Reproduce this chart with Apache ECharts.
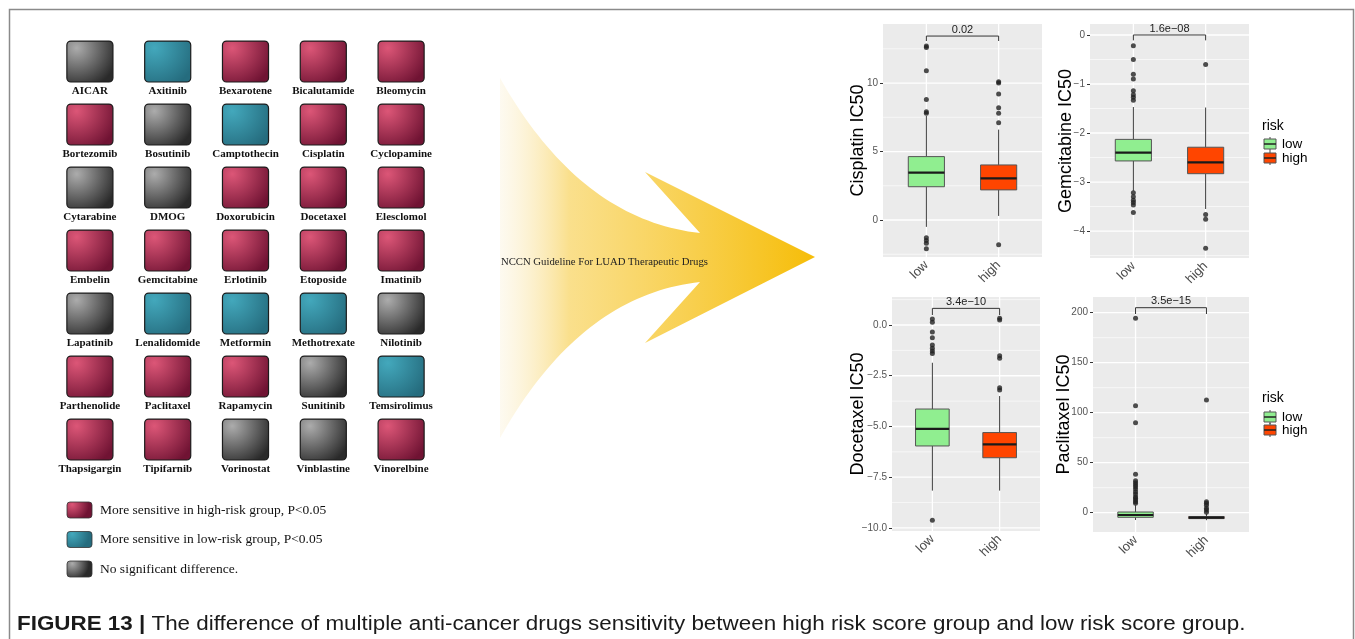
<!DOCTYPE html>
<html>
<head>
<meta charset="utf-8">
<script src="https://cdn.jsdelivr.net/npm/echarts@6/dist/echarts.min.js"></script>
<style>
  html, body { margin: 0; padding: 0; background: #ffffff; }
  #chart { width: 1355px; height: 639px; }
</style>
</head>
<body>
<div id="chart"></div>
<script>
// ---------- Drug overview tiles (5 columns x 7 rows) ----------
const drugNames = [
  'AICAR', 'Axitinib', 'Bexarotene', 'Bicalutamide', 'Bleomycin',
  'Bortezomib', 'Bosutinib', 'Camptothecin', 'Cisplatin', 'Cyclopamine',
  'Cytarabine', 'DMOG', 'Doxorubicin', 'Docetaxel', 'Elesclomol',
  'Embelin', 'Gemcitabine', 'Erlotinib', 'Etoposide', 'Imatinib',
  'Lapatinib', 'Lenalidomide', 'Metformin', 'Methotrexate', 'Nilotinib',
  'Parthenolide', 'Paclitaxel', 'Rapamycin', 'Sunitinib', 'Temsirolimus',
  'Thapsigargin', 'Tipifarnib', 'Vorinostat', 'Vinblastine', 'Vinorelbine'
];
// 0 = more sensitive in high-risk group, 1 = more sensitive in low-risk group, 2 = no difference
const drugStatus = [
  2, 1, 0, 0, 0,
  0, 2, 1, 0, 0,
  2, 2, 0, 0, 0,
  0, 0, 0, 0, 0,
  2, 1, 1, 1, 2,
  0, 0, 0, 2, 1,
  0, 0, 2, 2, 0
];
const statusLabels = [
  'More sensitive in high-risk group, P<0.05',
  'More sensitive in low-risk group, P<0.05',
  'No significant difference.'
];
const tileColumns = 5;

// ---------- IC50 boxplots ----------
const riskGroups = ['low', 'high'];
// per group: [lower whisker, Q1, median, Q3, upper whisker]
const cisplatinStats = [[-0.5, 2.43, 3.46, 4.63, 7.6], [0.3, 2.2, 3.04, 4.02, 6.6]];
const cisplatinOutliers = [[7.8, 7.9, 8.8, 10.9, 12.6, 12.7, -1.3, -1.5, -1.7, -2.1],
                           [7.1, 7.8, 8.2, 9.2, 10.0, 10.1, -1.8]];
const cisplatinTicks = [0, 5, 10];
const cisplatinTickLabels = ['0', '5', '10'];
const cisplatinMinor = [-2.5, 2.5, 7.5, 12.5];
const cisplatinP = '0.02';

const gemcitabineStats = [[-3.18, -2.57, -2.40, -2.13, -1.47], [-3.55, -2.83, -2.60, -2.29, -1.48]];
const gemcitabineOutliers = [[-1.33, -1.27, -1.22, -1.14, -0.90, -0.80, -0.50, -0.22,
                              -3.22, -3.30, -3.37, -3.42, -3.47, -3.62],
                             [-0.60, -3.66, -3.76, -4.35]];
const gemcitabineTicks = [0, -1, -2, -3, -4];
const gemcitabineTickLabels = ['0', '\u22121', '\u22122', '\u22123', '\u22124'];
const gemcitabineMinor = [-0.5, -1.5, -2.5, -3.5, -4.5];
const gemcitabineP = '1.6e\u221208';

const docetaxelStats = [[-8.16, -5.96, -5.12, -4.14, -1.86], [-8.16, -6.54, -5.88, -5.30, -3.50]];
const docetaxelOutliers = [[-1.40, -1.28, -1.15, -0.99, -0.63, -0.34, 0.13, 0.30, -9.62],
                           [-3.20, -3.09, -1.64, -1.51, 0.25, 0.33]];
const docetaxelTicks = [0, -2.5, -5, -7.5, -10];
const docetaxelTickLabels = ['0.0', '\u22122.5', '\u22125.0', '\u22127.5', '\u221210.0'];
const docetaxelMinor = [1.25, -1.25, -3.75, -6.25, -8.75];
const docetaxelP = '3.4e\u221210';

const paclitaxelStats = [[-7.3, -4.6, -2.3, 0.7, 7.5], [-7.5, -5.9, -4.9, -3.8, -1.2]];
const paclitaxelOutliers = [[9.4, 11, 12.7, 14.5, 16, 18.7, 21, 23.7, 26, 28, 30, 32, 38.4, 90, 107, 194.4],
                            [0.5, 2.7, 4.4, 7.5, 9.4, 11, 112.7]];
const paclitaxelTicks = [0, 50, 100, 150, 200];
const paclitaxelTickLabels = ['0', '50', '100', '150', '200'];
const paclitaxelMinor = [25, 75, 125, 175];
const paclitaxelP = '3.5e\u221215';

// ---------- layout & styling ----------
const riskFill = ['#90EE90', '#FF4500'];
const FONT = '"Liberation Sans", Arial, sans-serif';
const SERIF = '"Liberation Serif", "Times New Roman", serif';

function radial(c0, c1) {
  return { type: 'radial', x: 0.22, y: 0.18, r: 1.0,
           colorStops: [{ offset: 0, color: c0 }, { offset: 1, color: c1 }] };
}
const tileFills = [
  radial('#DC5677', '#701333'),
  radial('#43A8BC', '#256C7E'),
  radial('#ACACAC', '#2A2A2A')
];

const panels = [
  { name: 'Cisplatin IC50', stats: cisplatinStats, out: cisplatinOutliers, ticks: cisplatinTicks,
    labels: cisplatinTickLabels, minor: cisplatinMinor, p: cisplatinP, bracket: [13.43, 13.07],
    grid: { left: 883, top: 24, width: 159, height: 233 }, min: -2.70, max: 14.31, nameGap: 16 },
  { name: 'Gemcitabine IC50', stats: gemcitabineStats, out: gemcitabineOutliers, ticks: gemcitabineTicks,
    labels: gemcitabineTickLabels, minor: gemcitabineMinor, p: gemcitabineP, bracket: [0.0, -0.11],
    grid: { left: 1090, top: 24, width: 159, height: 234 }, min: -4.55, max: 0.224, nameGap: 15 },
  { name: 'Docetaxel IC50', stats: docetaxelStats, out: docetaxelOutliers, ticks: docetaxelTicks,
    labels: docetaxelTickLabels, minor: docetaxelMinor, p: docetaxelP, bracket: [0.82, 0.49],
    grid: { left: 892, top: 297, width: 148, height: 234 }, min: -10.15, max: 1.38, nameGap: 25 },
  { name: 'Paclitaxel IC50', stats: paclitaxelStats, out: paclitaxelOutliers, ticks: paclitaxelTicks,
    labels: paclitaxelTickLabels, minor: paclitaxelMinor, p: paclitaxelP, bracket: [205, 198.7],
    grid: { left: 1093, top: 297, width: 156, height: 235 }, min: -19.3, max: 215.7, nameGap: 20 }
];

const grids = [{ left: 51, top: 30, width: 389, height: 441, show: false }];
const xAxes = [{ gridIndex: 0, type: 'value', min: 0.5, max: tileColumns + 0.5, show: false }];
const yAxes = [{ gridIndex: 0, type: 'value', min: 0.5, max: 7.5, inverse: true, show: false }];
const series = [];

// tiles
series.push({
  type: 'custom', xAxisIndex: 0, yAxisIndex: 0, silent: true,
  data: drugNames.map((n, i) => [i % tileColumns + 1, Math.floor(i / tileColumns) + 1, drugStatus[i]]),
  renderItem(params, api) {
    const c = api.coord([api.value(0), api.value(1)]);
    const s = api.size([1, 1]);
    const w = s[0] * 0.592, h = s[1] * 0.65;
    return {
      type: 'group',
      children: [
        { type: 'rect', shape: { x: c[0] - w / 2, y: c[1] - h / 2, width: w, height: h, r: 4 },
          style: { fill: tileFills[api.value(2)], stroke: '#1c1c1c', lineWidth: 1.2 } },
        { type: 'text', x: c[0], y: c[1] + h / 2 + 9,
          style: { text: drugNames[params.dataIndex], fill: '#111', align: 'center', verticalAlign: 'middle',
                   font: 'bold 11px ' + SERIF } }
      ]
    };
  }
});

panels.forEach((p, k) => {
  const gi = k + 1;
  grids.push(Object.assign({ show: true, backgroundColor: '#EBEBEB', borderWidth: 0 }, p.grid));
  xAxes.push({
    gridIndex: gi, type: 'value', min: 0.4, max: 2.6,
    splitLine: { show: false }, axisLine: { show: false },
    axisTick: { show: true, customValues: [1, 2], length: 3, lineStyle: { color: '#333', width: 1 } },
    axisLabel: { customValues: [1, 2], formatter: v => riskGroups[Math.round(v) - 1],
                 rotate: 45, fontSize: 13, color: '#4D4D4D', margin: 6, fontFamily: FONT }
  });
  yAxes.push({
    gridIndex: gi, type: 'value', min: p.min, max: p.max,
    name: p.name, nameLocation: 'middle', nameRotate: 90, nameGap: p.nameGap, nameMoveOverlap: false,
    nameTextStyle: { fontSize: 18, color: '#000', fontFamily: FONT },
    splitLine: { show: false }, axisLine: { show: false },
    axisTick: { show: true, customValues: p.ticks, length: 3, lineStyle: { color: '#333', width: 1 } },
    axisLabel: { customValues: p.ticks, formatter: v => p.labels[p.ticks.indexOf(v)],
                 fontSize: 10, color: '#555', margin: 5, fontFamily: FONT }
  });

  // panel grid lines: 0 = major horizontal, 1 = minor horizontal, 2 = vertical at groups
  const gl = p.ticks.map(v => [0, v]).concat(p.minor.map(v => [1, v])).concat([[2, 1], [2, 2]]);
  series.push({
    type: 'custom', xAxisIndex: gi, yAxisIndex: gi, silent: true, z: 1,
    data: gl,
    renderItem(params, api) {
      const cs = params.coordSys;
      const kind = api.value(0), v = api.value(1);
      if (kind === 2) {
        const x = api.coord([v, p.min])[0];
        return { type: 'line', shape: { x1: x, y1: cs.y, x2: x, y2: cs.y + cs.height },
                 style: { stroke: '#ffffff', lineWidth: 1.3 } };
      }
      const y = api.coord([1, v])[1];
      return { type: 'line', shape: { x1: cs.x, y1: y, x2: cs.x + cs.width, y2: y },
               style: { stroke: '#ffffff', lineWidth: kind === 0 ? 1.3 : 0.6 } };
    }
  });

  // boxes
  series.push({
    type: 'custom', xAxisIndex: gi, yAxisIndex: gi, silent: true, z: 3,
    data: p.stats.map((s, i) => [i + 1].concat(s)),
    renderItem(params, api) {
      const x = api.value(0);
      const pLo = api.coord([x, api.value(1)]);
      const pQ1 = api.coord([x, api.value(2)]);
      const pMd = api.coord([x, api.value(3)]);
      const pQ3 = api.coord([x, api.value(4)]);
      const pHi = api.coord([x, api.value(5)]);
      const half = api.size([0.5, 0])[0] / 2;
      const cx = pMd[0];
      const ws = { stroke: '#3a3a3a', lineWidth: 1 };
      return {
        type: 'group',
        children: [
          { type: 'line', shape: { x1: cx, y1: pHi[1], x2: cx, y2: pQ3[1] }, style: ws },
          { type: 'line', shape: { x1: cx, y1: pQ1[1], x2: cx, y2: pLo[1] }, style: ws },
          { type: 'rect', shape: { x: cx - half, y: pQ3[1], width: 2 * half, height: pQ1[1] - pQ3[1] },
            style: { fill: riskFill[x - 1], stroke: '#555', lineWidth: 1 } },
          { type: 'line', shape: { x1: cx - half, y1: pMd[1], x2: cx + half, y2: pMd[1] },
            style: { stroke: '#1a1a1a', lineWidth: 2.2 } }
        ]
      };
    }
  });

  // outliers
  const pts = [];
  p.out.forEach((arr, i) => arr.forEach(v => pts.push([i + 1, v])));
  series.push({
    type: 'scatter', xAxisIndex: gi, yAxisIndex: gi, silent: true, z: 4,
    symbol: 'circle', symbolSize: 5, itemStyle: { color: '#222' }, data: pts
  });

  // significance bracket
  series.push({
    type: 'custom', xAxisIndex: gi, yAxisIndex: gi, silent: true, z: 4,
    data: [[1, 2, p.bracket[0], p.bracket[1]]],
    renderItem(params, api) {
      const a = api.coord([api.value(0), api.value(3)]);
      const b = api.coord([api.value(0), api.value(2)]);
      const c = api.coord([api.value(1), api.value(2)]);
      const d = api.coord([api.value(1), api.value(3)]);
      return {
        type: 'group',
        children: [
          { type: 'polyline', shape: { points: [a, b, c, d] }, style: { stroke: '#333', lineWidth: 1, fill: null } },
          { type: 'text', x: (b[0] + c[0]) / 2, y: b[1] - 1,
            style: { text: p.p, fill: '#222', align: 'center', verticalAlign: 'bottom', font: '11px ' + FONT } }
        ]
      };
    }
  });
});

// risk legend (boxplot key glyphs)
function riskLegend(x, yTitle, yKeys) {
  const els = [{ type: 'text', x: x, y: yTitle,
                 style: { text: 'risk', fill: '#000', font: '14px ' + FONT, verticalAlign: 'middle' } }];
  riskGroups.forEach((g, i) => {
    const cy = yKeys[i];
    els.push({ type: 'line', shape: { x1: x + 8, y1: cy - 7, x2: x + 8, y2: cy + 7 }, style: { stroke: '#444', lineWidth: 1 } });
    els.push({ type: 'rect', shape: { x: x + 2, y: cy - 5, width: 12, height: 10 },
               style: { fill: riskFill[i], stroke: '#555', lineWidth: 1 } });
    els.push({ type: 'line', shape: { x1: x + 2, y1: cy, x2: x + 14, y2: cy }, style: { stroke: '#222', lineWidth: 1.5 } });
    els.push({ type: 'text', x: x + 20, y: cy,
               style: { text: g, fill: '#000', font: '13.5px ' + FONT, verticalAlign: 'middle' } });
  });
  return els;
}

// tile status legend
const statusLegend = [];
statusLabels.forEach((t, i) => {
  const cy = 510 + i * 29.5;
  statusLegend.push({ type: 'rect', shape: { x: 67, y: cy - 8, width: 25, height: 16, r: 3 },
                      style: { fill: tileFills[i], stroke: '#333', lineWidth: 0.8 } });
  statusLegend.push({ type: 'text', x: 100, y: cy,
                      style: { text: t, fill: '#111', font: '13.5px ' + SERIF, verticalAlign: 'middle' } });
});

// curved arrow outline: quadratic curves sampled into a polygon
function quad(p0, c, p1, n) {
  const out = [];
  for (let i = 0; i <= n; i++) {
    const t = i / n, u = 1 - t;
    out.push([u * u * p0[0] + 2 * u * t * c[0] + t * t * p1[0], u * u * p0[1] + 2 * u * t * c[1] + t * t * p1[1]]);
  }
  return out;
}
const arrowPts = quad([500, 78], [580, 220], [700, 233], 40)
  .concat([[645, 172], [815, 257], [645, 343]])
  .concat(quad([700, 282], [580, 295], [500, 438], 40));

const arrow = [
  { type: 'polygon', silent: true,
    shape: { points: arrowPts },
    style: { fill: { type: 'linear', x: 0, y: 0, x2: 1, y2: 0,
                     colorStops: [{ offset: 0, color: 'rgba(250,238,205,0.3)' },
                                  { offset: 0.22, color: 'rgba(249,218,120,0.85)' },
                                  { offset: 1, color: '#F6BD08' }] } } },
  { type: 'text', x: 501, y: 262,
    style: { text: 'NCCN Guideline For LUAD Therapeutic Drugs', fill: '#222', font: '10.7px ' + SERIF, verticalAlign: 'middle' } }
];

const frame = { type: 'rect', shape: { x: 9.5, y: 9.5, width: 1344, height: 660 },
                style: { fill: null, stroke: '#8a8a8a', lineWidth: 1.5 }, silent: true };

const caption = { type: 'text', x: 17, y: 624, scaleX: 1.12,
  style: { text: '{b|FIGURE 13} {b||} The difference of multiple anti-cancer drugs sensitivity between high risk score group and low risk score group.',
           font: '20px ' + FONT, fill: '#1a1a1a', verticalAlign: 'middle',
           rich: { b: { fontWeight: 'bold', fontSize: 20, fontFamily: FONT, fill: '#1a1a1a' } } } };

const chart = echarts.init(document.getElementById('chart'), null, { renderer: 'canvas' });
chart.setOption({
  animation: false,
  backgroundColor: '#ffffff',
  grid: grids,
  xAxis: xAxes,
  yAxis: yAxes,
  series: series,
  graphic: [frame].concat(arrow, statusLegend, riskLegend(1262, 126, [144, 158]),
                          riskLegend(1262, 398, [417, 430]), [caption])
});
</script>
</body>
</html>
